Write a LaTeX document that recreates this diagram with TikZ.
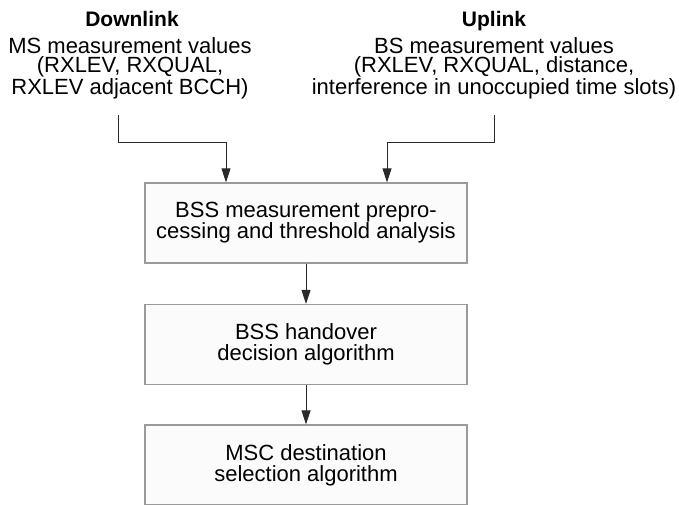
\documentclass[tikz,border=0pt]{standalone}
\usepackage{fontspec}
\setmainfont{Liberation Sans}
\usetikzlibrary{arrows.meta}
\definecolor{boxgray}{HTML}{9A9A9A}
\definecolor{boxfill}{HTML}{FBFBFB}
\definecolor{linegray}{HTML}{2A2A2A}
\begin{document}
\begin{tikzpicture}[x=1pt,y=-1pt,
  titletext/.style={font=\fontsize{21}{21}\selectfont\bfseries, inner sep=0pt, anchor=base},
  srctext/.style={font=\fontsize{22}{18.8}\selectfont, align=center, inner sep=0pt, anchor=base},
  stepbox/.style={draw=boxgray, line width=1.3pt, fill=boxfill, minimum width=322pt,
    minimum height=80pt, font=\fontsize{22}{21}\selectfont, align=center, inner sep=0pt},
  conn/.style={draw=linegray, line width=0.9pt},
  arr/.style={conn, -{Triangle[length=14pt,width=9pt]}}
]
\useasboundingbox (0,0) rectangle (679,504);

\node[titletext] (dltitle) at (132,26) {Downlink};
\node[titletext] (ultitle) at (494,26) {Uplink};

\node[srctext] (ms) at (130,94) {MS measurement values\\(RXLEV, RXQUAL,\\RXLEV adjacent BCCH)};
\node[srctext] (bs) at (494,94) {BS measurement values\\(RXLEV, RXQUAL, distance,\\interference in unoccupied time slots)};

\node[stepbox] (b1) at (306,223) {BSS measurement prepro-\\cessing and threshold analysis};
\node[stepbox] (b2) at (306,344.5) {BSS handover\\decision algorithm};
\node[stepbox] (b3) at (306,465) {MSC destination\\selection algorithm};

\coordinate (dl1) at (118,115);
\coordinate (dl2) at (226,142);
\coordinate (ul1) at (494,115);
\coordinate (ul2) at (387,142);

\draw[arr] (dl1) |- (dl2) -- (dl2 |- b1.north);
\draw[arr] (ul1) |- (ul2) -- (ul2 |- b1.north);
\draw[arr] (b1) -- (b2);
\draw[arr] (b2) -- (b3);
\end{tikzpicture}
\end{document}
